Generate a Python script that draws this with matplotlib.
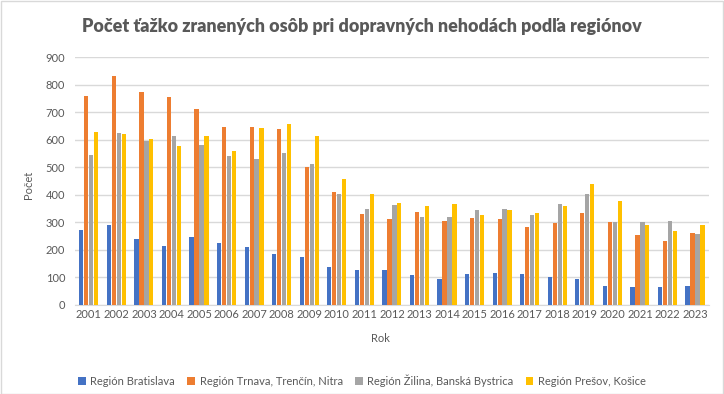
import matplotlib
matplotlib.use("Agg")
import matplotlib.pyplot as plt
import numpy as np
from matplotlib.patches import Rectangle

years = [str(y) for y in range(2001, 2024)]
series_names = ["Región Bratislava", "Región Trnava, Trenčín, Nitra",
                "Región Žilina, Banská Bystrica", "Región Prešov, Košice"]
bratislava = [272, 290, 239, 213, 246, 224, 210, 184, 173, 137, 126, 126, 108, 93, 112, 115, 112, 101, 93, 68, 64, 64, 68]
trnava = [759, 832, 773, 755, 712, 646, 646, 639, 501, 410, 330, 312, 337, 304, 315, 312, 282, 297, 333, 301, 253, 232, 261]
zilina = [544, 624, 595, 613, 581, 541, 530, 552, 512, 402, 348, 362, 319, 319, 344, 348, 326, 366, 402, 301, 301, 304, 257]
presov = [628, 621, 602, 577, 613, 559, 642, 657, 613, 457, 402, 370, 359, 366, 326, 344, 333, 359, 439, 377, 290, 268, 290]
colors = ["#4472C4", "#ED7D31", "#A5A5A5", "#FFC000"]

plt.rcParams['font.family'] = ['Lato', 'DejaVu Sans']
txt = "#595959"

fig = plt.figure(figsize=(7.24, 3.94), dpi=100)
ax = fig.add_axes([0.1036, 0.2259, 0.979 - 0.1036, 0.8553 - 0.2259])

x = np.arange(len(years))
w = 0.155
pitch = 0.18
for i, (vals, c, n) in enumerate(zip([bratislava, trnava, zilina, presov], colors, series_names)):
    ax.bar(x + (i - 1.5) * pitch, vals, width=w, color=c, label=n, zorder=3)

ax.set_xlim(-0.5, len(years) - 0.5)
ax.set_ylim(0, 900)
ax.set_yticks(range(0, 901, 100))
ax.set_xticks(x)
ax.set_xticklabels(years)
ax.grid(axis='y', color='#D9D9D9', linewidth=1, zorder=0)
for s in ax.spines.values():
    s.set_visible(False)
ax.spines['bottom'].set_visible(True)
ax.spines['bottom'].set_color('#D9D9D9')
ax.tick_params(axis='both', length=0, colors=txt, labelsize=8)
ax.tick_params(axis='y', pad=7)
ax.tick_params(axis='x', pad=3)

fig.text(0.5, 0.934, "Počet ťažko zranených osôb pri dopravných nehodách podľa regiónov",
         ha='center', va='center', fontsize=12.9, fontweight='heavy', color=txt)
fig.text(0.039, 0.53, "Počet", rotation=90, ha='center', va='center', fontsize=8, color=txt)
fig.text(0.526, 0.142, "Rok", ha='center', va='center', fontsize=8, color=txt)

leg = fig.legend(loc='center', bbox_to_anchor=(0.5, 0.033), ncol=4, frameon=False,
                 fontsize=8, handlelength=0.7, handleheight=0.7, handletextpad=0.4,
                 columnspacing=1.1, labelcolor=txt)

fig.patches.append(Rectangle((0.001, 0.001), 0.997, 0.997, transform=fig.transFigure,
                             fill=False, edgecolor='#D9D9D9', linewidth=1))

fig.savefig("out.png", dpi=100, facecolor='white')
